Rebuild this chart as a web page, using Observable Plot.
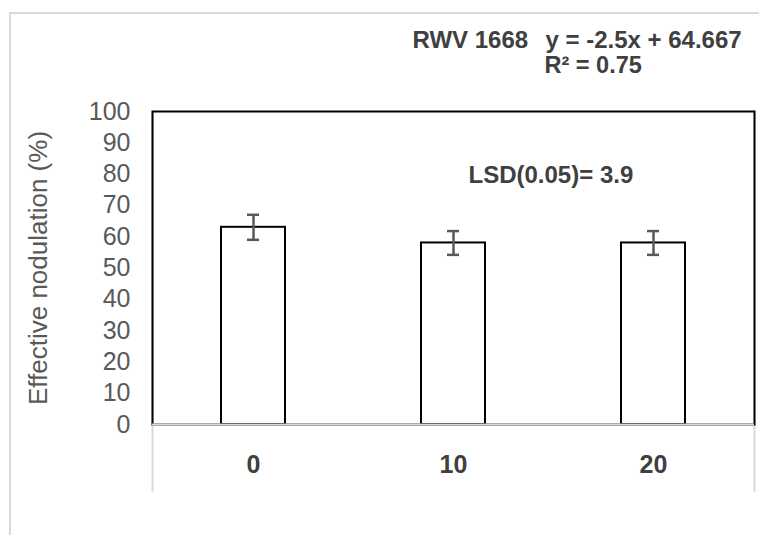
<!DOCTYPE html>
<html>
<head>
<meta charset="utf-8">
<script src="https://cdn.jsdelivr.net/npm/d3@7"></script>
<script src="https://cdn.jsdelivr.net/npm/@observablehq/plot@0.6"></script>
<style>
  html, body { margin: 0; padding: 0; background: white; width: 759px; height: 535px; overflow: hidden; }
  #wrap { position: relative; width: 759px; height: 535px; }
  #border { position: absolute; left: 9px; top: 12px; width: 800px; height: 600px; border: 2px solid #d9d9d9; pointer-events: none; box-sizing: border-box; }
</style>
</head>
<body>
<div id="wrap"><div id="border"></div></div>
<script>
// ---- data ----
const doses = ["0", "10", "20"];
const nodulation = [63, 58, 58];
const errors = [4.0, 3.8, 3.8];
const yTicks = [0, 10, 20, 30, 40, 50, 60, 70, 80, 90, 100];
const yLabel = "Effective nodulation (%)";
const cultivarLabel = "RWV 1668";
const equationLabel = "y = -2.5x + 64.667";
const r2Label = "R² = 0.75";
const lsdLabel = "LSD(0.05)= 3.9";

const data = doses.map((d, i) => ({dose: d, value: nodulation[i], err: errors[i]}));

const font = "'Liberation Sans', Arial, sans-serif";
const bold = {fontWeight: "bold", fill: "#404040", textAnchor: "start", lineAnchor: "middle"};

const chart = Plot.plot({
  width: 759,
  height: 535,
  marginLeft: 152,
  marginRight: 5,
  marginTop: 111,
  marginBottom: 111,
  style: {fontFamily: font, background: "transparent"},
  x: {domain: doses, paddingInner: 0.68, paddingOuter: 0.34},
  y: {domain: [0, 100]},
  marks: [
    Plot.axisY({ticks: yTicks, tickSize: 0, tickPadding: 22, fontSize: 25, fill: "#595959", label: null}),
    Plot.text([yLabel], {frameAnchor: "left", rotate: -90, dx: -114, fontSize: 26, fill: "#595959", lineAnchor: "middle", textAnchor: "middle"}),
    Plot.axisX({tickSize: 0, tickPadding: 31, fontSize: 25, fontWeight: "bold", fill: "#404040", label: null}),
    Plot.frame({anchor: "left", stroke: "#d9d9d9", strokeWidth: 2, insetBottom: -66}),
    Plot.frame({anchor: "right", stroke: "#d9d9d9", strokeWidth: 2, insetBottom: -66}),
    Plot.frame({stroke: "black", strokeWidth: 2}),
    Plot.barY(data, {x: "dose", y: "value", fill: "white", stroke: "black", strokeWidth: 2}),
    Plot.ruleY([0], {stroke: "#d9d9d9", strokeWidth: 2}),
    Plot.ruleX(data, {x: "dose", y1: d => d.value - d.err, y2: d => d.value + d.err, stroke: "#595959", strokeWidth: 2.5}),
    Plot.tickY(data, {x: "dose", y: d => d.value + d.err, stroke: "#595959", strokeWidth: 2.5, insetLeft: 26, insetRight: 26}),
    Plot.tickY(data, {x: "dose", y: d => d.value - d.err, stroke: "#595959", strokeWidth: 2.5, insetLeft: 26, insetRight: 26}),
    Plot.text([cultivarLabel], {frameAnchor: "top-left", dx: 260, dy: -71, fontSize: 24, ...bold}),
    Plot.text([equationLabel], {frameAnchor: "top-left", dx: 393, dy: -71, fontSize: 24, ...bold}),
    Plot.text([r2Label], {frameAnchor: "top-left", dx: 392, dy: -46, fontSize: 23.5, ...bold}),
    Plot.text([lsdLabel], {frameAnchor: "top-left", dx: 316, dy: 64, fontSize: 24, ...bold})
  ]
});
chart.style.position = "absolute";
chart.style.left = "0px";
chart.style.top = "0px";
document.getElementById("wrap").prepend(chart);
</script>
</body>
</html>
